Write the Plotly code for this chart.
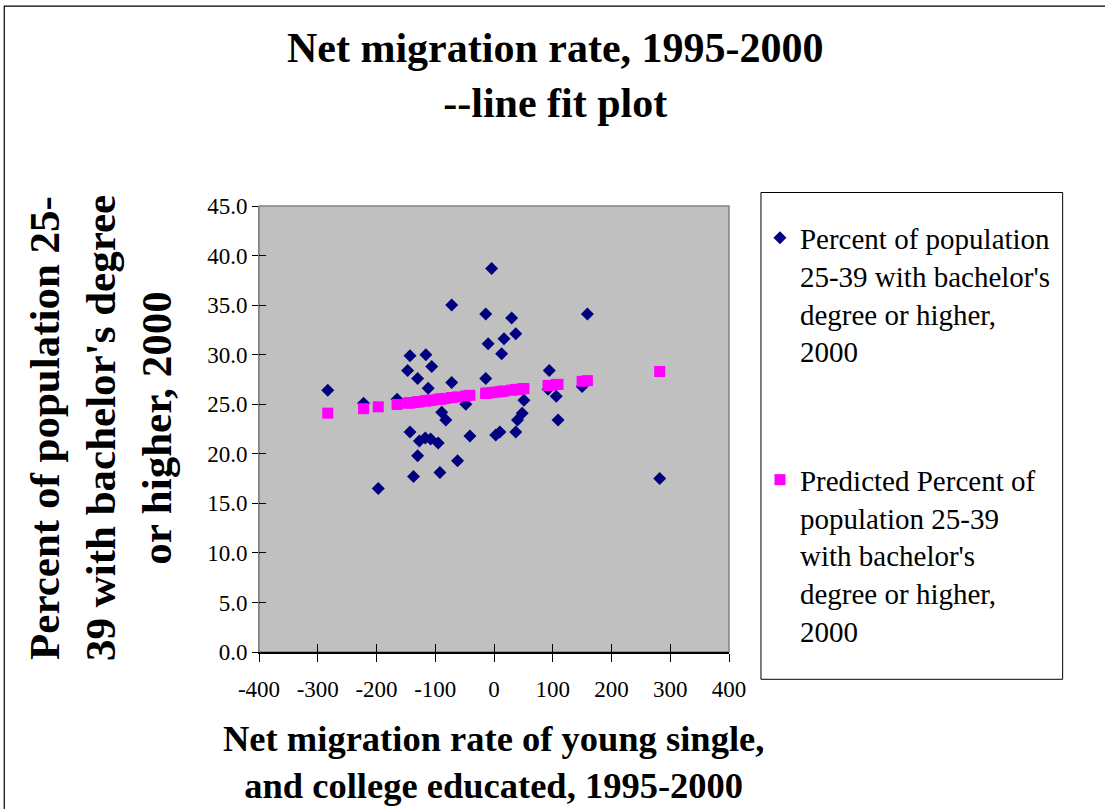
import plotly.graph_objects as go

# ---- data ----
migration_rate = [-283, -222, -197, -165, -147, -143, -143, -137, -130, -130,
                  -127, -117, -116, -112, -108, -106, -95, -92, -89, -82,
                  -72, -72, -62, -48, -41, -14, -14, -10, -4, 3,
                  10, 13, 17, 30, 37, 37, 40, 48, 51, 92,
                  94, 106, 109, 150, 159, 282]
pct_bachelor = [26.4, 25.1, 16.5, 25.5, 28.4, 29.9, 22.2, 17.7, 27.6, 19.8,
                21.3, 21.6, 30.0, 26.6, 21.5, 28.8, 21.1, 18.1, 24.2, 23.4,
                35.0, 27.2, 19.3, 25.0, 21.8, 34.1, 27.6, 31.1, 38.7, 21.9,
                22.2, 30.1, 31.6, 33.7, 32.1, 22.2, 23.4, 24.1, 25.4, 26.5,
                28.4, 25.8, 23.4, 26.8, 34.1, 17.5]
predicted_pct = [24.10, 24.55, 24.74, 24.97, 25.11, 25.14, 25.14, 25.18, 25.23, 25.23,
                 25.26, 25.33, 25.34, 25.37, 25.40, 25.41, 25.49, 25.52, 25.54, 25.59,
                 25.67, 25.67, 25.74, 25.84, 25.90, 26.10, 26.10, 26.13, 26.17, 26.22,
                 26.27, 26.30, 26.33, 26.42, 26.47, 26.47, 26.50, 26.56, 26.58, 26.88,
                 26.90, 26.99, 27.01, 27.31, 27.38, 28.30]

x_tickvals = [-400, -300, -200, -100, 0, 100, 200, 300, 400]
x_ticktext = ["-400", "-300", "-200", "-100", "0", "100", "200", "300", "400"]

series_names = ["Percent of population<br>25-39 with bachelor's<br>degree or higher,<br>2000",
                "Predicted Percent of<br>population 25-39<br>with bachelor's<br>degree or higher,<br>2000"]
title_text = "<b>Net migration rate, 1995-2000<br>--line fit plot</b>"
x_title = "<b>Net migration rate of young single,<br>and college educated, 1995-2000</b>"
y_title = "<b>Percent of population 25-<br>39 with bachelor's degree<br>or higher, 2000</b>"

FONT = "Liberation Serif, Times New Roman, serif"

# geometry (pixels) of the plotting area in the 1105x809 page
W, H = 1105, 809
L, R, T, B = 258.5, 729.0, 205.5, 651.7
pw, ph = R - L, B - T


def px(x):
    return (x - L) / pw


def py(y):
    return (B - y) / ph


fig = go.Figure()
fig.add_trace(go.Scatter(
    x=migration_rate, y=pct_bachelor, mode="markers", name=series_names[0],
    legendgroup="a",
    marker=dict(symbol="diamond", size=10, color="#000080",
                line=dict(width=0)),
))
fig.add_trace(go.Scatter(
    x=migration_rate, y=predicted_pct, mode="markers", name=series_names[1],
    legendgroup="b",
    marker=dict(symbol="square", size=11, color="#FF00FF",
                line=dict(width=0)),
))
# empty trace to realise the inner halves of the crossing tick marks
fig.add_trace(go.Scatter(x=[], y=[], xaxis="x2", yaxis="y2", showlegend=False))

fig.update_layout(
    width=W, height=H,
    margin=dict(l=L, r=W - R, t=T, b=H - B, pad=0),
    paper_bgcolor="white",
    plot_bgcolor="#C0C0C0",
    font=dict(family=FONT, color="black"),
    showlegend=True,
    legend=dict(
        x=px(760), y=py(212), xanchor="left", yanchor="top",
        bgcolor="rgba(0,0,0,0)", borderwidth=0,
        font=dict(family=FONT, size=29, color="black"),
        valign="top", tracegroupgap=88, itemsizing="trace",
        maxheight=700,
    ),
    xaxis=dict(
        range=[-400, 400], tickvals=x_tickvals, ticktext=x_ticktext,
        showgrid=False, zeroline=False,
        showline=True, linecolor="black", linewidth=1.5,
        ticks="outside", ticklen=8, tickwidth=1, tickcolor="black",
        tickfont=dict(family=FONT, size=23, color="black"),
        ticklabelstandoff=8,
    ),
    yaxis=dict(
        range=[0, 45], dtick=5, tick0=0, showgrid=False, zeroline=False,
        showline=True, linecolor="#808080", linewidth=1,
        ticks="outside", ticklen=6, tickwidth=1, tickcolor="black",
        tickformat=".1f",
        tickfont=dict(family=FONT, size=23, color="black"),
    ),
    xaxis2=dict(
        range=[-400, 400], tickvals=x_tickvals, overlaying="x", anchor="y",
        showgrid=False, zeroline=False, showline=False, showticklabels=False,
        ticks="inside", ticklen=8, tickwidth=1, tickcolor="black",
    ),
    yaxis2=dict(
        range=[0, 45], dtick=5, tick0=0, overlaying="y", anchor="x",
        showgrid=False, zeroline=False, showline=False, showticklabels=False,
        ticks="inside", ticklen=7, tickwidth=1, tickcolor="black",
    ),
    shapes=[
        # grey frame of the plot area
        dict(type="rect", xref="paper", yref="paper", x0=0, x1=1, y0=0, y1=1,
             line=dict(color="#808080", width=1.5), fillcolor="rgba(0,0,0,0)",
             layer="below"),
        # legend box
        dict(type="rect", xref="paper", yref="paper",
             x0=px(761), x1=px(1063), y0=py(679), y1=py(192),
             line=dict(color="black", width=1), fillcolor="white", layer="below"),
        # chart-area border
        dict(type="rect", xref="paper", yref="paper",
             x0=px(3.5), x1=px(1112), y0=py(815), y1=py(5.5),
             line=dict(color="black", width=1.2), fillcolor="rgba(0,0,0,0)",
             layer="below"),
    ],
    annotations=[
        dict(text=title_text, xref="paper", yref="paper", x=px(555), y=py(75),
             xanchor="center", yanchor="middle", showarrow=False,
             font=dict(family=FONT, size=42, color="black")),
        dict(text=x_title, xref="paper", yref="paper", x=px(493), y=py(762),
             xanchor="center", yanchor="middle", showarrow=False,
             font=dict(family=FONT, size=36.5, color="black")),
        dict(text=y_title, xref="paper", yref="paper", x=px(100), y=py(428),
             xanchor="center", yanchor="middle", showarrow=False, textangle=-90,
             font=dict(family=FONT, size=43, color="black")),
    ],
)

fig.write_html("out.html",
               config={"displayModeBar": False},
               post_script="document.body.style.margin='0px';"
                           "document.body.style.overflow='hidden';")
